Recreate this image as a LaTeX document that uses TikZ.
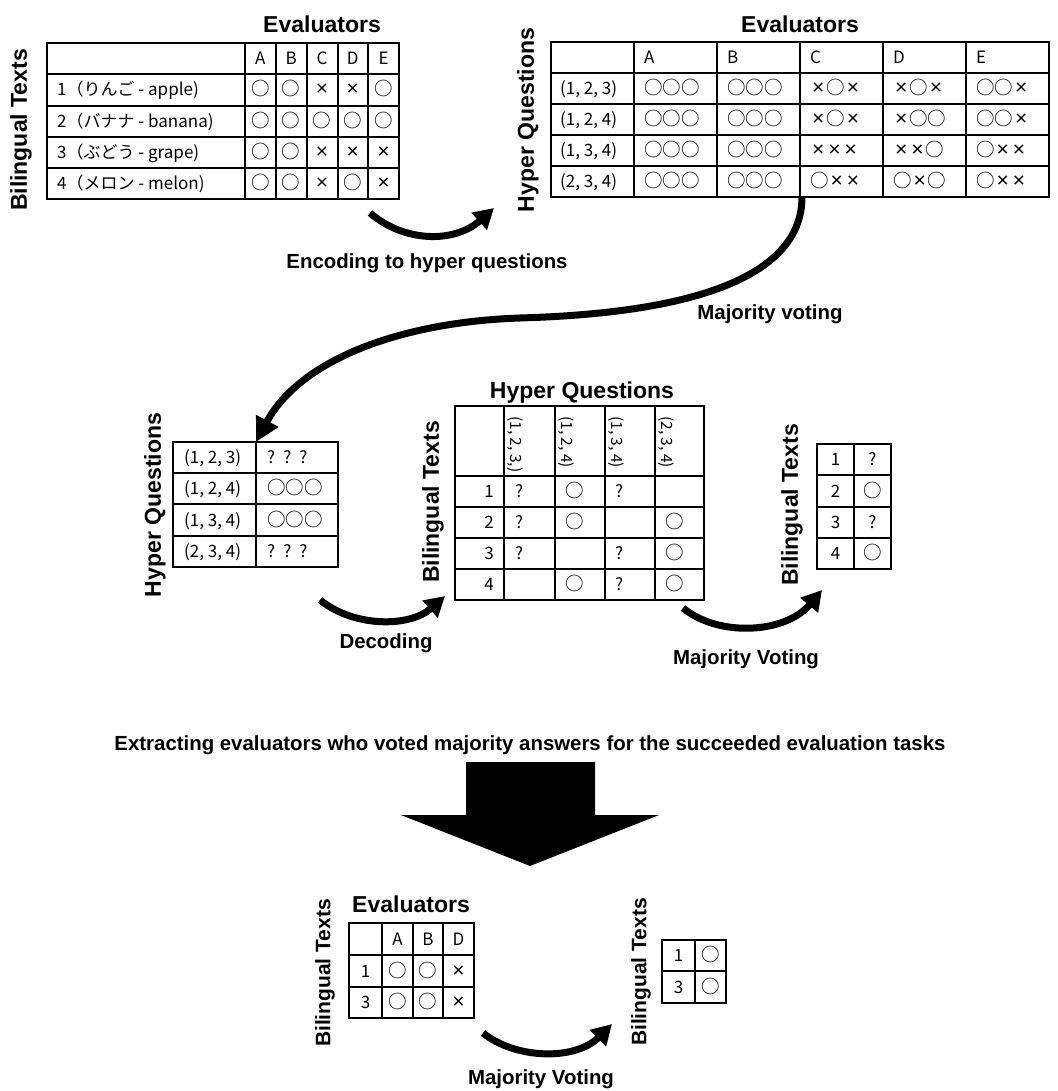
\documentclass[tikz,border=0pt]{standalone}
\usepackage{fontspec}
\setmainfont{Liberation Sans}
\newfontfamily\cjk{Noto Sans CJK JP}
\newfontfamily\lat{Liberation Sans}
\usetikzlibrary{arrows.meta}
\newcommand\ci{{\fontsize{18.5}{20}\selectfont ○}}
\newcommand\xx{{\kern2pt\lat\fontsize{21}{22}\selectfont ×\kern2pt}}
\newcommand\qq{?\hspace{8pt}?\hspace{8pt}?}
\newcommand\cellC[4]{\node[cell,anchor=base] (#1) at (#2,#3+6) {#4};}
\newcommand\cellL[4]{\node[cell,anchor=base west] (#1) at (#2,#3+6) {#4};}
\newcommand\cellR[4]{\node[cell,anchor=base east] (#1) at (#2,#3+6) {#4};}
\begin{document}
\begin{tikzpicture}[x=1pt,y=-1pt,
  grid/.style={line width=1.3pt,black},
  cell/.style={font=\cjk\fontsize{17}{20}\selectfont,inner sep=0pt},
  vcell/.style={font=\cjk\fontsize{15.5}{18}\selectfont,inner sep=0pt},
  lab/.style={font=\bfseries\fontsize{20.4}{24}\selectfont,inner sep=0pt},
  head/.style={font=\bfseries\fontsize{23}{28}\selectfont,inner sep=0pt},
  headsm/.style={font=\bfseries\fontsize{21}{25}\selectfont,inner sep=0pt},
  curvy/.style={line width=7pt,-{Triangle[length=24pt,width=24pt]}},
  smallcurvy/.style={line width=7pt,-{Triangle[length=20pt,width=22pt]}}]
\useasboundingbox (0,0) rectangle (1057,1091);
\fill[white] (0,0) rectangle (1057,1091);

% ---------------- top-left table
\node[head,anchor=base] (tlt) at (322,33) {Evaluators};
\node[head,rotate=90] (tly) at (21,130) {Bilingual Texts};
\draw[grid] (47,43) rectangle (399,199);
\foreach \x in {245,276,307,338,368} \draw[grid] (\x,43) -- (\x,199);
\foreach \y in {74,106,137,168} \draw[grid] (47,\y) -- (399,\y);
\foreach \t [count=\c] in {A,B,C,D,E} {\cellC{tlh\c}{245+30.8*\c-15.4}{58.5}{\t}}
\foreach \r/\y/\txt/\vals in {1/90/{1（りんご - apple)}/{\ci,\ci,\xx,\xx,\ci},
  2/121.5/{2（バナナ - banana)}/{\ci,\ci,\ci,\ci,\ci},
  3/152.5/{3（ぶどう - grape)}/{\ci,\ci,\xx,\xx,\xx},
  4/183.5/{4（メロン - melon)}/{\ci,\ci,\xx,\ci,\xx}}{
  \cellL{tll\r}{57}{\y}{\txt}
  \foreach \v [count=\c] in \vals {\cellC{tlc\r-\c}{245+30.8*\c-15.4}{\y}{\v}}
}

% ---------------- top-right table
\node[head,anchor=base] (trt) at (800,33) {Evaluators};
\node[head,rotate=90] (try) at (528,120) {Hyper Questions};
\draw[grid] (551,42) rectangle (1049,197);
\foreach \x in {634,717,800,883,966} \draw[grid] (\x,42) -- (\x,197);
\foreach \y in {73,104,135,166} \draw[grid] (551,\y) -- (1049,\y);
\foreach \t [count=\c] in {A,B,C,D,E} {\cellL{trh\c}{551+83*\c+10}{57.5}{\t}}
\foreach \r/\y/\txt/\vals in {1/88.5/{(1, 2, 3)}/{\ci\ci\ci,\ci\ci\ci,\xx\ci\xx,\xx\ci\xx,\ci\ci\xx},
  2/119.5/{(1, 2, 4)}/{\ci\ci\ci,\ci\ci\ci,\xx\ci\xx,\xx\ci\ci,\ci\ci\xx},
  3/150.5/{(1, 3, 4)}/{\ci\ci\ci,\ci\ci\ci,\xx\xx\xx,\xx\xx\ci,\ci\xx\xx},
  4/181.5/{(2, 3, 4)}/{\ci\ci\ci,\ci\ci\ci,\ci\xx\xx,\ci\xx\ci,\ci\xx\xx}}{
  \cellL{trl\r}{560}{\y}{\txt}
  \foreach \v [count=\c] in \vals {\cellL{trc\r-\c}{551+83*\c+10}{\y}{\v}}
}

% ---------------- middle-left table
\node[head,rotate=90] (mly) at (155,505) {Hyper Questions};
\draw[grid] (173,442) rectangle (338,567);
\draw[grid] (256,442) -- (256,567);
\foreach \y in {473,504,536} \draw[grid] (173,\y) -- (338,\y);
\foreach \r/\y/\txt/\v in {1/457.5/{(1, 2, 3)}/{\qq},2/488.5/{(1, 2, 4)}/{\ci\ci\ci},
  3/520/{(1, 3, 4)}/{\ci\ci\ci},4/551.5/{(2, 3, 4)}/{\qq}}{
  \cellL{mll\r}{184}{\y}{\txt}
  \cellL{mlc\r}{267}{\y}{\v}
}

% ---------------- middle table
\node[head,anchor=base] (mt) at (582,398) {Hyper Questions};
\node[head,rotate=90] (my) at (433,502) {Bilingual Texts};
\draw[grid] (455,406) rectangle (704,600);
\foreach \x in {504,555,605,655} \draw[grid] (\x,406) -- (\x,600);
\foreach \y in {476,507,538,569} \draw[grid] (455,\y) -- (704,\y);
\foreach \t/\x [count=\c] in {{(1, 2, 3,)}/510,{(1, 2, 4)}/561,{(1, 3, 4)}/611,{(2, 3, 4)}/661}
  {\node[vcell,rotate=-90,anchor=base west] (mh\c) at (\x,416) {\t};}
\foreach \r/\y/\vals in {1/491.5/{?,\ci,?,{}},2/522.5/{?,\ci,{},\ci},
  3/553.5/{?,{},?,\ci},4/584.5/{{},\ci,?,\ci}}{
  \cellR{mrl\r}{494}{\y}{\r}
  \foreach \v [count=\c] in \vals {\cellL{mc\r-\c}{454+50*\c+11}{\y}{\v}}
}

% ---------------- right small table
\node[head,rotate=90] (ry) at (792,505) {Bilingual Texts};
\draw[grid] (817,444) rectangle (891,569);
\draw[grid] (854,444) -- (854,569);
\foreach \y in {475,507,538} \draw[grid] (817,\y) -- (891,\y);
\foreach \r/\y/\v in {1/459.5/?,2/491/\ci,3/522.5/?,4/553.5/\ci}{
  \cellC{rl\r}{835.5}{\y}{\r}
  \cellC{rc\r}{872.5}{\y}{\v}
}

% ---------------- bottom table
\node[head,anchor=base] (bt) at (411,912) {Evaluators};
\node[headsm,rotate=90] (by) at (325,973) {Bilingual Texts};
\draw[grid] (349,923) rectangle (474,1018);
\foreach \x in {382,413,443} \draw[grid] (\x,923) -- (\x,1018);
\foreach \y in {955,987} \draw[grid] (349,\y) -- (474,\y);
\foreach \t/\x [count=\c] in {A/397.5,B/428,D/458.5} {\cellC{bh\c}{\x}{939}{\t}}
\foreach \r/\y in {1/971,3/1002.5}{
  \cellC{bl\r}{365.5}{\y}{\r}
  \foreach \v/\x [count=\c] in {\ci/397.5,\ci/428,\xx/458.5} {\cellC{bc\r-\c}{\x}{\y}{\v}}
}

% ---------------- bottom-right table
\node[headsm,rotate=90] (bry) at (641,972) {Bilingual Texts};
\draw[grid] (662,940) rectangle (726,1003);
\draw[grid] (695,940) -- (695,1003);
\draw[grid] (662,971) -- (726,971);
\foreach \r/\y in {1/955.5,3/987}{
  \cellC{brl\r}{678.5}{\y}{\r}
  \cellC{brc\r}{710.5}{\y}{\ci}
}

% ---------------- labels
\node[lab,anchor=base] (encl) at (427,268) {Encoding to hyper questions};
\node[lab,anchor=base] (mvl) at (770,319) {Majority voting};
\node[lab,anchor=base] (decl) at (386,648) {Decoding};
\node[lab,anchor=base] (mv2l) at (746,664) {Majority Voting};
\node[lab,anchor=base] (extl) at (530,750) {Extracting evaluators who voted majority answers for the succeeded evaluation tasks};
\node[lab,anchor=base] (mv3l) at (541,1084) {Majority Voting};

% ---------------- arrows
\coordinate (encS) at (370,213);
\coordinate (encE) at (494,208);
\draw[smallcurvy] (encS) .. controls (405,243) and (455,243) .. (encE);

\coordinate (mvS) at (802,197);
\coordinate (mvM) at (520,318);
\coordinate (mvE) at (256,442);
\draw[curvy] (mvS) .. controls (802,300) and (620,315) .. (mvM)
  .. controls (400,322) and (300,360) .. (mvE);

\coordinate (decS) at (320,600);
\coordinate (decE) at (445,596);
\draw[smallcurvy] (decS) .. controls (355,628) and (410,627) .. (decE);

\coordinate (mv2S) at (683,608);
\coordinate (mv2E) at (822,590);
\draw[smallcurvy] (mv2S) .. controls (718,637) and (785,634) .. (mv2E);

\coordinate (mv3S) at (483,1033);
\coordinate (mv3E) at (612,1024);
\draw[smallcurvy] (mv3S) .. controls (515,1059) and (575,1061) .. (mv3E);

% ---------------- block arrow
\fill (466,762) -- (595,762) -- (595,815) -- (659,815) -- (530,866)
  -- (401,815) -- (466,815) -- cycle;
\end{tikzpicture}
\end{document}
